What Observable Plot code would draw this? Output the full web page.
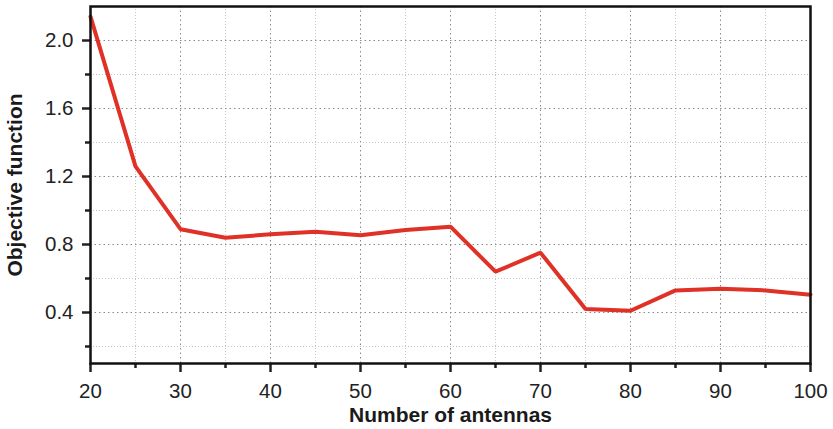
<!DOCTYPE html>
<html>
<head>
<meta charset="utf-8">
<script src="https://cdn.jsdelivr.net/npm/d3@7"></script>
<script src="https://cdn.jsdelivr.net/npm/@observablehq/plot@0.6"></script>
<style>
  html, body { margin: 0; padding: 0; background: #fff; }
  svg { display: block; }
</style>
</head>
<body>
<div id="chart"></div>
<script>
const antennas = [20, 25, 30, 35, 40, 45, 50, 55, 60, 65, 70, 75, 80, 85, 90, 95, 100];
const objective = [2.14, 1.26, 0.89, 0.84, 0.86, 0.875, 0.855, 0.885, 0.905, 0.64, 0.752, 0.42, 0.41, 0.53, 0.54, 0.53, 0.505];
const xMajorTicks = [20, 30, 40, 50, 60, 70, 80, 90, 100];
const xMinorTicks = [25, 35, 45, 55, 65, 75, 85, 95];
const yMajorTicks = [0.4, 0.8, 1.2, 1.6, 2.0];
const yMinorTicks = [0.2, 0.6, 1.0, 1.4, 1.8];
const xLabel = "Number of antennas";
const yLabel = "Objective function";

const data = antennas.map((a, i) => ({antennas: a, objective: objective[i]}));

const chart = Plot.plot({
  width: 833,
  height: 429,
  marginLeft: 90,
  marginRight: 23,
  marginTop: 6,
  marginBottom: 66,
  style: {fontFamily: "'Liberation Sans', Arial, sans-serif", fontSize: "20.5px", color: "#222", background: "#fff"},
  x: {domain: [20, 100]},
  y: {domain: [0.1, 2.2]},
  marks: [
    Plot.gridX(xMinorTicks, {stroke: "#c4c4c4", strokeOpacity: 1, strokeDasharray: "1,2", strokeWidth: 1}),
    Plot.gridX(xMajorTicks.filter(d => d > 20 && d < 100), {stroke: "#8a8a8a", strokeOpacity: 1, strokeDasharray: "1.5,3", strokeWidth: 1}),
    Plot.gridY(yMinorTicks, {stroke: "#c4c4c4", strokeOpacity: 1, strokeDasharray: "1,2", strokeWidth: 1}),
    Plot.gridY(yMajorTicks, {stroke: "#8a8a8a", strokeOpacity: 1, strokeDasharray: "1.5,3", strokeWidth: 1}),
    Plot.line(data, {x: "antennas", y: "objective", stroke: "#e03127", strokeWidth: 4, strokeLinejoin: "miter"}),
    Plot.axisX(xMinorTicks, {tickSize: 5, strokeWidth: 2.5, text: null, label: null}),
    Plot.axisX(xMajorTicks, {tickSize: 9, strokeWidth: 2.5, tickPadding: 11, fontSize: 20.5, label: xLabel, labelAnchor: "center", labelArrow: "none", labelOffset: 58}),
    Plot.axisY(yMinorTicks, {tickSize: 5, strokeWidth: 2.5, text: null, label: null}),
    Plot.axisY(yMajorTicks, {tickSize: 8, strokeWidth: 2.5, tickPadding: 9, fontSize: 20.5, tickFormat: d3.format(".1f"), label: yLabel, labelAnchor: "center", labelArrow: "none", labelOffset: 83}),
    Plot.frame({stroke: "#111", strokeWidth: 2.5})
  ]
});

document.getElementById("chart").appendChild(chart);
// Make axis labels bold and slightly larger
chart.querySelectorAll("g[aria-label='x-axis label'] text, g[aria-label='y-axis label'] text").forEach(t => {
  t.setAttribute("font-weight", "bold");
  t.setAttribute("font-size", "21");
  t.setAttribute("fill", "#1a1a1a");
});
</script>
</body>
</html>
